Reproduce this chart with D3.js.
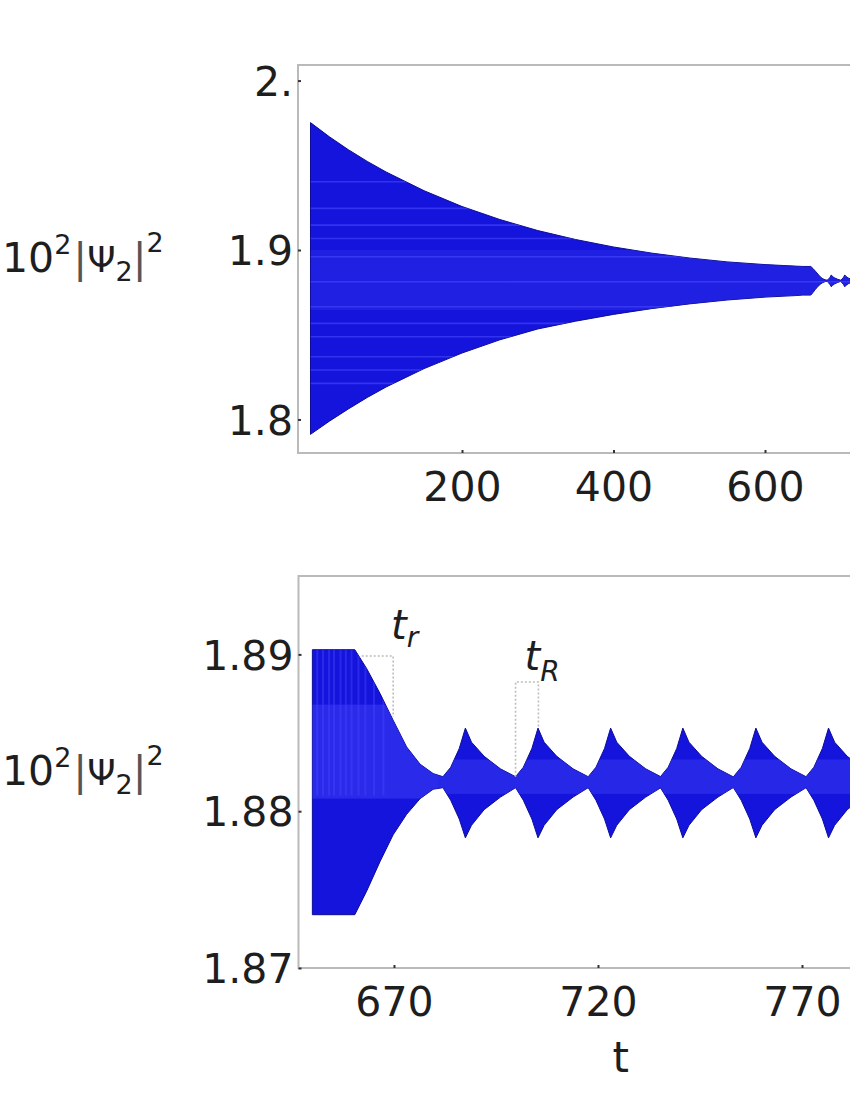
<!DOCTYPE html>
<html>
<head>
<meta charset="utf-8">
<script src="https://cdn.jsdelivr.net/npm/d3@7"></script>
<style>
  body { margin: 0; background: #fff; }
  svg { display: block; font-family: 'DejaVu Sans', sans-serif; }
</style>
</head>
<body>
<div id="chart"></div>
<script>
// slow decay of the envelope: time, upper and lower edge
const decayT     = [0, 25, 50, 75, 100, 150, 200, 250, 300, 350, 400, 450, 500, 550, 600, 640, 650, 660.4, 663.3, 666.6, 669.8, 673.1, 676.4, 679.6];
const decayUpper = [1.9752, 1.9668, 1.9592, 1.9523, 1.9460, 1.9350, 1.9257, 1.9180, 1.9115, 1.9062, 1.9018, 1.8982, 1.8953, 1.8930, 1.8914, 1.8905, 1.8903, 1.8903, 1.8891, 1.8875, 1.8858, 1.8841, 1.8830, 1.8824];
const decayLower = [1.7912, 1.7990, 1.8062, 1.8130, 1.8192, 1.8300, 1.8392, 1.8470, 1.8534, 1.8580, 1.8620, 1.8654, 1.8682, 1.8705, 1.8722, 1.8731, 1.8734, 1.8734, 1.8749, 1.8768, 1.8785, 1.8798, 1.8808, 1.8814];

// revivals: peak times and the shape of one burst around its peak
const burstPeaks  = [687.5, 705.3, 723.1, 740.8, 758.7, 776.5, 794.3];
const burstOffset = [-5.5, -3.6, -1.5, 0, 1.5, 4.6, 8.6, 12.3];
const burstUpper  = [1.8822, 1.8828, 1.8840, 1.8853, 1.8844, 1.8835, 1.8827, 1.8822];
const burstLower  = [1.8815, 1.8807, 1.8795, 1.8783, 1.8791, 1.8801, 1.8809, 1.8815];

// light streaks seen inside the bands
const topStripes = [1.9403, 1.9246, 1.9147, 1.9068, 1.8960, 1.8813, 1.8665, 1.8567, 1.8488, 1.8370, 1.8292, 1.8213];
const botStreaks = [651.2, 652.6, 654.1, 655.3, 656.9, 658.2, 659.6, 661.3, 663.0, 665.1, 667.4];

// ticks
const topXTicks = [200, 400, 600];
const topYTicks = [1.8, 1.9, 2.0];
const topYLabels = ['1.8', '1.9', '2.'];
const botXTicks = [670, 720, 770];
const botYTicks = [1.87, 1.88, 1.89];
const botYLabels = ['1.87', '1.88', '1.89'];

// t_r and t_R markers (time, value)
const trLine = [[662.1, 1.8899], [669.8, 1.8899], [669.8, 1.8860]];
const tRLine = [[699.8, 1.8822], [699.8, 1.88824], [705.4, 1.88824], [705.4, 1.8853]];

const width = 850, height = 1100;

const env = decayT.map((t, i) => ({ t: t, hi: decayUpper[i], lo: decayLower[i] }));
burstPeaks.forEach(p => {
  burstOffset.forEach((o, j) => env.push({ t: p + o, hi: burstUpper[j], lo: burstLower[j] }));
});

const svg = d3.select('#chart').append('svg')
  .attr('width', width)
  .attr('height', height)
  .style('background', '#fff');

const defs = svg.append('defs');

function panel(opts) {
  const x = d3.scaleLinear().domain(opts.xDomain).range(opts.xRange);
  const y = d3.scaleLinear().domain(opts.yDomain).range(opts.yRange);
  const left = opts.xRange[0], top = opts.yRange[1], bottom = opts.yRange[0];
  const data = env.filter(d => d.t >= opts.tMin);

  defs.append('clipPath').attr('id', opts.id + '-frame')
    .append('rect').attr('x', left).attr('y', top)
    .attr('width', 700).attr('height', bottom - top);

  const area = d3.area()
    .x(d => x(d.t))
    .y0(d => y(d.lo))
    .y1(d => y(d.hi));

  defs.append('clipPath').attr('id', opts.id + '-env')
    .append('path').attr('d', area(data));

  const g = svg.append('g').attr('clip-path', 'url(#' + opts.id + '-frame)');

  g.append('path')
    .attr('d', area(data))
    .attr('fill', '#1414dc')
    .attr('stroke', '#0c0c96')
    .attr('stroke-width', 1);

  const inner = g.append('g').attr('clip-path', 'url(#' + opts.id + '-env)');
  opts.shade(inner, x, y);

  // frame (right side is outside the picture)
  svg.append('path')
    .attr('d', `M${left + 700},${top}H${left}V${bottom}H${left + 700}`)
    .attr('fill', 'none')
    .attr('stroke', '#bababa')
    .attr('stroke-width', 2);

  const xAxis = svg.append('g')
    .attr('transform', `translate(0,${bottom})`)
    .call(d3.axisBottom(x).tickValues(opts.xTicks).tickSize(-3).tickFormat(d3.format('d')));
  const yAxis = svg.append('g')
    .attr('transform', `translate(${left},0)`)
    .call(d3.axisLeft(y).tickValues(opts.yTicks).tickSize(-3)
      .tickFormat((d, i) => opts.yLabels[i]));

  [xAxis, yAxis].forEach(a => {
    a.select('.domain').remove();
    a.selectAll('.tick line').attr('stroke', '#333').attr('stroke-width', 2);
    a.selectAll('.tick text')
      .attr('font-family', "'DejaVu Sans', sans-serif")
      .attr('font-size', 41)
      .attr('fill', '#1e1e1e');
  });
  xAxis.selectAll('.tick text').attr('y', 48).attr('dy', 0);
  yAxis.selectAll('.tick text').attr('x', -5).attr('dy', '0.36em');

  // y label 10^2 |Psi_2|^2
  const lab = svg.append('text')
    .attr('x', 2)
    .attr('y', (top + bottom) / 2 + 13)
    .attr('font-size', 41)
    .attr('fill', '#1e1e1e');
  lab.append('tspan').text('10');
  lab.append('tspan').attr('font-size', 27).attr('dy', -18).text('2');
  lab.append('tspan').attr('dy', 18).attr('dx', 2).attr('fill', '#555').text('|');
  lab.append('tspan').attr('font-size', 36).text('\u03A8');
  lab.append('tspan').attr('font-size', 27).attr('dy', 9).text('2');
  lab.append('tspan').attr('dy', -9).attr('fill', '#555').text('|');
  lab.append('tspan').attr('font-size', 27).attr('dy', -20).text('2');

  return { x, y };
}

panel({
  id: 'top', tMin: 0,
  xDomain: [-16.5, 760], xRange: [298, 886.2],
  yDomain: [1.7802, 2.0092], yRange: [453, 65],
  xTicks: topXTicks, yTicks: topYTicks, yLabels: topYLabels,
  shade: (g, x, y) => {
    g.append('rect')
      .attr('x', x(0)).attr('width', 600)
      .attr('y', y(1.900)).attr('height', y(1.8646) - y(1.900))
      .attr('fill', '#4040f4').attr('opacity', 0.3);
    g.selectAll('line.stripe')
      .data(topStripes)
      .enter().append('line')
      .attr('class', 'stripe')
      .attr('x1', x(0)).attr('x2', 850)
      .attr('y1', d => y(d)).attr('y2', d => y(d))
      .attr('stroke', '#4d4dff')
      .attr('stroke-width', 1.6)
      .attr('opacity', 0.55);
  }
});

const bot = panel({
  id: 'bot', tMin: 650,
  xDomain: [646.6, 790], xRange: [298.5, 883.6],
  yDomain: [1.87, 1.895], yRange: [968, 576],
  xTicks: botXTicks, yTicks: botYTicks, yLabels: botYLabels,
  shade: (g, x, y) => {
    g.append('rect')
      .attr('x', x(648)).attr('width', x(681) - x(648))
      .attr('y', y(1.8868)).attr('height', y(1.8808) - y(1.8868))
      .attr('fill', '#4a4aff').attr('opacity', 0.4);
    g.selectAll('line.streak')
      .data(botStreaks)
      .enter().append('line')
      .attr('class', 'streak')
      .attr('x1', d => x(d)).attr('x2', d => x(d))
      .attr('y1', y(1.8905)).attr('y2', y(1.8810))
      .attr('stroke', '#4a4aff')
      .attr('stroke-width', 2)
      .attr('opacity', 0.4);
    g.append('rect')
      .attr('x', x(681)).attr('width', 600)
      .attr('y', y(1.8833)).attr('height', y(1.8811) - y(1.8833))
      .attr('fill', '#4a4aff').attr('opacity', 0.35);
  }
});

// t_r and t_R markers
const markLine = d3.line().x(d => bot.x(d[0])).y(d => bot.y(d[1]));
[trLine, tRLine].forEach(l => {
  svg.append('path')
    .attr('d', markLine(l))
    .attr('fill', 'none')
    .attr('stroke', '#bdbdbd')
    .attr('stroke-width', 1.6)
    .attr('stroke-dasharray', '2,2');
});

const tr = svg.append('text')
  .attr('x', bot.x(669.3)).attr('y', bot.y(1.8910))
  .attr('font-size', 40).attr('font-style', 'italic').attr('fill', '#1e1e1e');
tr.append('tspan').text('t');
tr.append('tspan').attr('font-size', 28).attr('dy', 8).text('r');

const tR = svg.append('text')
  .attr('x', bot.x(702.0)).attr('y', bot.y(1.8890))
  .attr('font-size', 40).attr('font-style', 'italic').attr('fill', '#1e1e1e');
tR.append('tspan').text('t');
tR.append('tspan').attr('font-size', 28).attr('dy', 11).text('R');

// x axis title
svg.append('text')
  .attr('x', bot.x(725.6)).attr('y', 1072)
  .attr('text-anchor', 'middle')
  .attr('font-size', 42).attr('fill', '#1e1e1e')
  .text('t');
</script>
</body>
</html>
